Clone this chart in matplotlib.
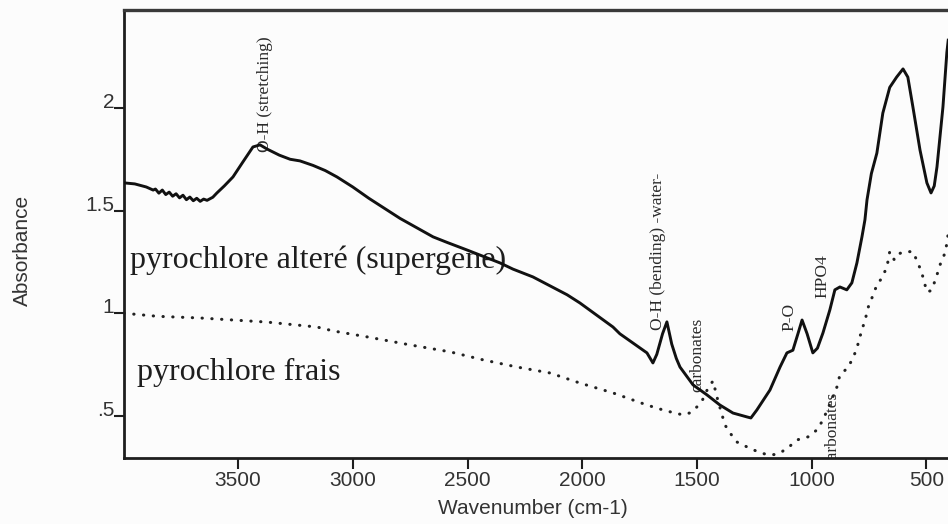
import matplotlib
matplotlib.use('Agg')
import matplotlib.pyplot as plt

# Altered (supergene) pyrochlore: wavenumber (cm-1), absorbance
wn_altere = [3997, 3950, 3900, 3870, 3860, 3845, 3830, 3815, 3800, 3785, 3770, 3755,
             3740, 3725, 3710, 3695, 3680, 3665, 3650, 3635, 3610, 3592, 3560, 3522,
             3480, 3435, 3404, 3374, 3320, 3273, 3230, 3173, 3120, 3069, 3000, 2930,
             2794, 2650, 2589, 2502, 2358, 2302, 2215, 2066, 2010, 1866, 1836, 1718,
             1692, 1675, 1650, 1631, 1610, 1590, 1574, 1517, 1456, 1400, 1343, 1282,
             1265, 1239, 1182, 1138, 1108, 1082, 1060, 1042, 1020, 995, 975, 951,
             921, 899, 877, 847, 825, 803, 781, 768, 759, 740, 716, 690, 660, 630,
             602, 581, 559, 528, 498, 480, 466, 454, 428, 411, 405]
abs_altere = [1.635, 1.630, 1.615, 1.600, 1.605, 1.585, 1.600, 1.578, 1.590, 1.570, 1.582, 1.562,
              1.575, 1.553, 1.566, 1.548, 1.560, 1.545, 1.556, 1.550, 1.565, 1.586, 1.620, 1.664,
              1.735, 1.810, 1.820, 1.800, 1.770, 1.750, 1.742, 1.720, 1.695, 1.664, 1.615, 1.560,
              1.462, 1.372, 1.345, 1.308, 1.245, 1.215, 1.177, 1.090, 1.050, 0.933, 0.900, 0.807,
              0.758, 0.800, 0.900, 0.958, 0.850, 0.780, 0.738, 0.651, 0.602, 0.553, 0.514, 0.495,
              0.490, 0.529, 0.626, 0.738, 0.807, 0.820, 0.900, 0.967, 0.900, 0.807, 0.830, 0.904,
              1.016, 1.114, 1.128, 1.114, 1.148, 1.245, 1.372, 1.455, 1.552, 1.680, 1.780, 1.975, 2.100, 2.150,
              2.190, 2.150, 2.005, 1.795, 1.635, 1.586, 1.620, 1.713, 2.005, 2.270, 2.330]

# Fresh pyrochlore
wn_frais = [3997, 3850, 3666, 3374, 3156, 3086, 2938, 2751, 2576, 2432, 2284, 2140,
            2010, 1866, 1718, 1648, 1600, 1561, 1530, 1500, 1475, 1450, 1430, 1410,
            1378, 1356, 1326, 1282, 1234, 1191, 1160, 1138, 1104, 1064, 1016, 977,
            951, 920, 890, 877, 843, 820, 803, 790, 777, 764, 751, 734, 716, 694,
            672, 660, 640, 620, 594, 559, 537, 520, 498, 480, 472, 454, 441, 419,
            411, 405]
abs_frais = [1.000, 0.985, 0.977, 0.957, 0.933, 0.914, 0.885, 0.846, 0.812, 0.773, 0.738, 0.709,
             0.660, 0.612, 0.553, 0.529, 0.515, 0.505, 0.515, 0.544, 0.580, 0.640, 0.670, 0.580,
             0.456, 0.417, 0.373, 0.349, 0.325, 0.310, 0.312, 0.320, 0.344, 0.383, 0.398, 0.432,
             0.480, 0.560, 0.641, 0.700, 0.734, 0.782, 0.830, 0.885, 0.933, 0.982, 1.040, 1.084, 1.138, 1.172,
             1.226, 1.300, 1.260, 1.290, 1.300, 1.300, 1.245, 1.196, 1.104, 1.110, 1.128, 1.187, 1.235, 1.294,
             1.340, 1.390]

xticks = [3500, 3000, 2500, 2000, 1500, 1000, 500]
yticks = [0.5, 1.0, 1.5, 2.0]
ytick_labels = ['.5', '1', '1.5', '2']

# band labels: text, wavenumber, absorbance at the text's lower end
bandes = [
    ('O-H (stretching)', 3382, 1.786),
    ('O-H (bending) -water-', 1670, 0.919),
    ('carbonates', 1500, 0.617),
    ('P-O', 1099, 0.914),
    ('HPO4', 951, 1.075),
    ('carbonates', 912, 0.255),
]

ink = '#1e1e1e'
sans = ['Liberation Sans', 'DejaVu Sans']
serif = ['Liberation Serif', 'DejaVu Serif']

fig = plt.figure(figsize=(9.48, 5.24), dpi=100)
fig.patch.set_facecolor('#fcfcfc')
ax = fig.add_axes([124 / 948, 1 - 458 / 524, 1 - 124 / 948, 448 / 524])
ax.set_facecolor('#fcfcfc')

ax.plot(wn_altere, abs_altere, color='#111111', lw=2.1, solid_joinstyle='round', zorder=3)
ax.plot(wn_frais, abs_frais, color='#222222', lw=2.2, linestyle=(0, (0.1, 3.1)),
        dash_capstyle='round', zorder=3)

ax.set_xlim(3997, 406)
ax.set_ylim(0.295, 2.477)

ax.spines['right'].set_visible(False)
for s in ['left', 'bottom']:
    ax.spines[s].set_linewidth(2.0)
    ax.spines[s].set_color(ink)
ax.spines['top'].set_linewidth(2.4)
ax.spines['top'].set_color('#3a3a3a')

ax.set_xticks(xticks)
ax.set_xticklabels([str(t) for t in xticks], fontfamily=sans, fontsize=15, color='#333333')
ax.set_yticks(yticks)
ax.set_yticklabels(ytick_labels, fontfamily=sans, fontsize=15, color='#333333')
for lab in ax.get_yticklabels():
    lab.set_verticalalignment('baseline')
ax.tick_params(axis='x', direction='out', length=8, width=1.5, color=ink, pad=1)
ax.tick_params(axis='y', direction='out', length=7, width=1.5, color=ink, pad=0)

fig.text(533 / 948, 1 - 508 / 524, 'Wavenumber (cm-1)', ha='center', va='center',
         fontfamily=sans, fontsize=15, color='#333333')
fig.text(22 / 948, 1 - 250 / 524, 'Absorbance', ha='center', va='center', rotation=90,
         fontfamily=sans, fontsize=15, color='#333333')

ax.text(3971, 1.221, 'pyrochlore alteré (supergene)', fontfamily=serif, fontsize=23,
        color=ink, ha='left', va='baseline', zorder=2)
ax.text(3940, 0.675, 'pyrochlore frais', fontfamily=serif, fontsize=23,
        color=ink, ha='left', va='baseline', zorder=2)

for txt, x, y in bandes:
    ax.text(x, y, txt, rotation=90, ha='center', va='bottom', fontfamily=serif,
            fontsize=12.5, color='#2a2a2a', zorder=2, clip_on=True)

fig.savefig('out.png', dpi=100, facecolor=fig.get_facecolor())
